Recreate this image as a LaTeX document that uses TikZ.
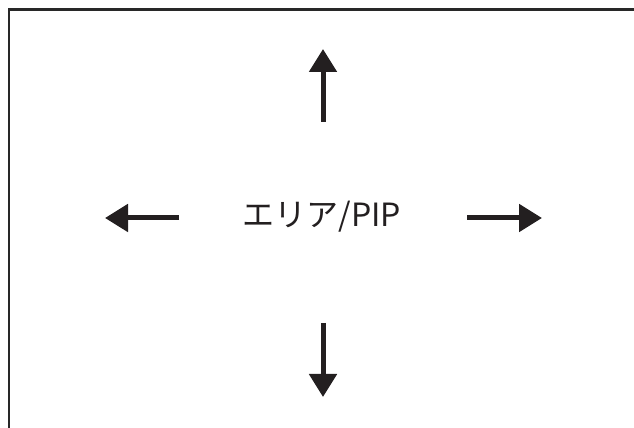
\documentclass[tikz,border=0pt]{standalone}
\usepackage{fontspec}
\setmainfont{Noto Sans CJK JP}
\usepackage{tikz}
\usetikzlibrary{arrows.meta, positioning}
\definecolor{PIPInk}{RGB}{35, 31, 32}
\definecolor{PIPFrame}{RGB}{40, 40, 40}

\begin{document}
\begin{tikzpicture}[x=1pt,y=1pt,
  pipmove/.style={PIPInk, line width=5pt, -{Triangle[length=23pt, width=27pt]}}]
  \path[use as bounding box] (0,0) rectangle (634,428);
  \fill[white] (0,0) rectangle (634,428);

  % frame: only top and left edges are visible
  \draw[PIPFrame, line width=2.4pt] (8.8,-2) -- (8.8,418.3) -- (640,418.3);

  % label in the middle
  \node[PIPInk, inner sep=0pt, font=\fontsize{32}{36}\selectfont] (area) at (322,211) {エリア/PIP};

  % arrow ends
  \coordinate (upfoot) at (323,306);
  \coordinate (uptip) at (323,379);
  \coordinate (downfoot) at (323,105);
  \coordinate (downtip) at (323,31);
  \coordinate (leftfoot) at (179,210);
  \coordinate (lefttip) at (105,210);
  \coordinate (rightfoot) at (467,210);
  \coordinate (righttip) at (542,210);

  \draw[pipmove] (upfoot) -- (uptip);
  \draw[pipmove] (downfoot) -- (downtip);
  \draw[pipmove] (leftfoot) -- (lefttip);
  \draw[pipmove] (rightfoot) -- (righttip);
\end{tikzpicture}
\end{document}
